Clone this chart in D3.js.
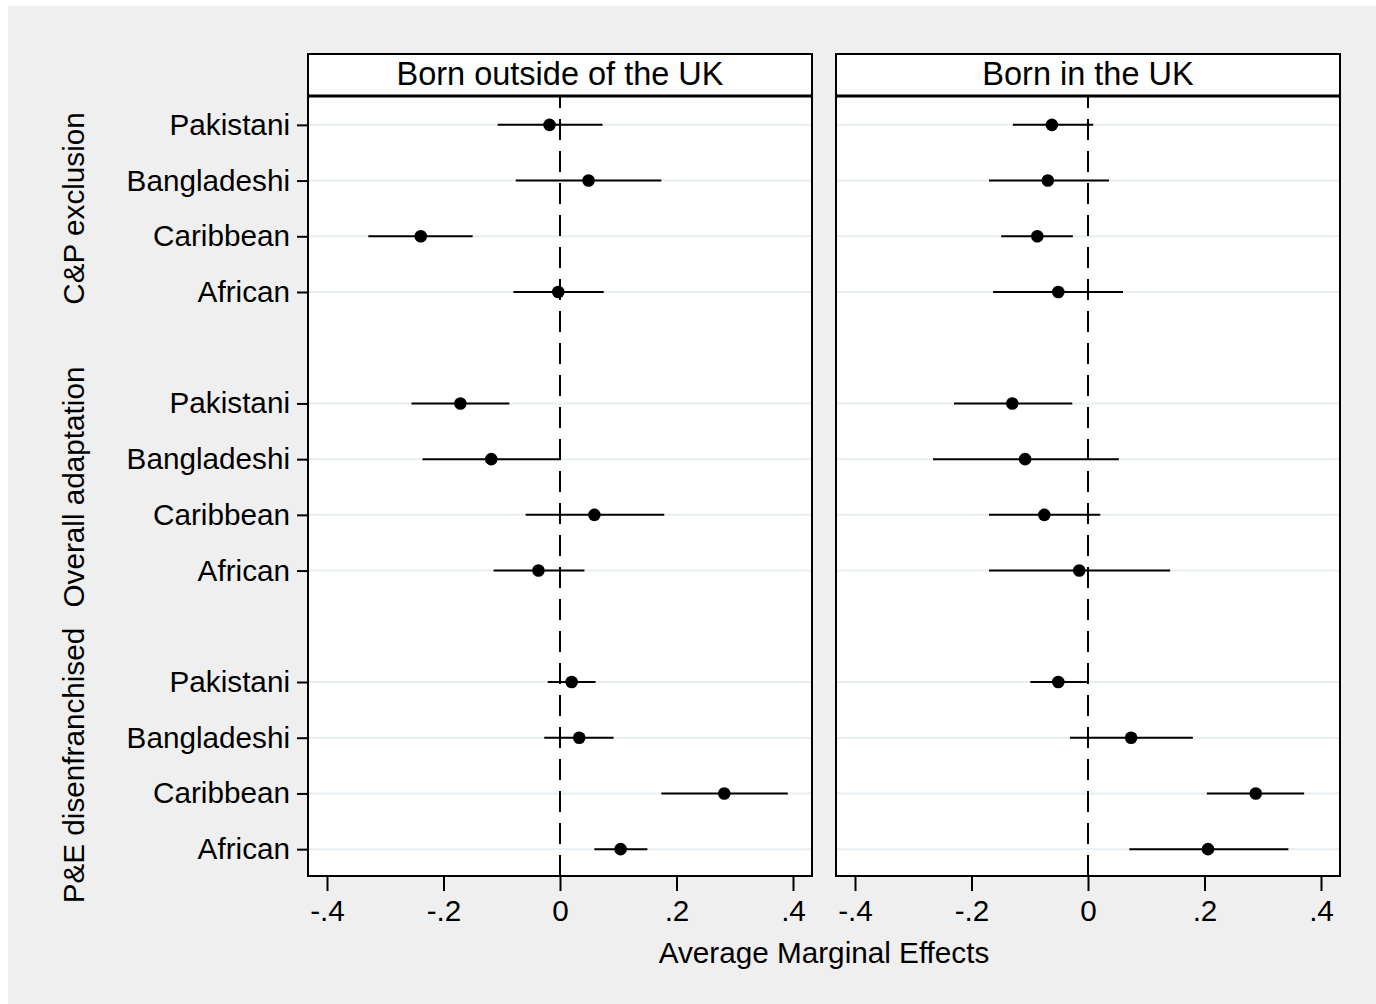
<!DOCTYPE html>
<html lang="en">
<head>
<meta charset="utf-8">
<title>Average Marginal Effects</title>
<script src="https://cdn.jsdelivr.net/npm/d3@7/dist/d3.min.js"></script>
<style>
  body { margin: 0; background: #fff; }
  text { font-family: "Liberation Sans", Arial, sans-serif; fill: #000; }
</style>
</head>
<body>
<script>
// categories and groups (rows top to bottom)
var categories = ["Pakistani", "Bangladeshi", "Caribbean", "African"];
var groups = ["C&P exclusion", "Overall adaptation", "P&E disenfranchised"];
var panels = ["Born outside of the UK", "Born in the UK"];
var xTicks = [-0.4, -0.2, 0, 0.2, 0.4];

// born outside of the UK: estimate, lower and upper CI (group by group)
var outsideEst = [-0.018, 0.049, -0.239, -0.003,  -0.171, -0.118, 0.059, -0.037,  0.020, 0.033, 0.282, 0.104];
var outsideLo  = [-0.107, -0.076, -0.329, -0.080,  -0.255, -0.236, -0.059, -0.114,  -0.021, -0.027, 0.174, 0.059];
var outsideHi  = [0.073, 0.174, -0.150, 0.075,  -0.087, 0.001, 0.179, 0.042,  0.061, 0.092, 0.391, 0.150];

// born in the UK
var ukEst = [-0.062, -0.069, -0.087, -0.051,  -0.130, -0.108, -0.075, -0.015,  -0.051, 0.074, 0.288, 0.206];
var ukLo  = [-0.129, -0.170, -0.149, -0.163,  -0.230, -0.266, -0.170, -0.170,  -0.099, -0.031, 0.204, 0.071];
var ukHi  = [0.009, 0.036, -0.026, 0.060,  -0.027, 0.053, 0.021, 0.141,  -0.002, 0.180, 0.371, 0.344];

var width = 1376, height = 1004;
var fontSize = "29.7px";

var svg = d3.select("body").append("svg")
  .attr("width", width)
  .attr("height", height);

// outer gray area
svg.append("rect")
  .attr("x", 8).attr("y", 6)
  .attr("width", width - 8).attr("height", height - 6)
  .attr("fill", "#efefef");

var plotTop = 54, headerBottom = 96, plotBottom = 876;

// rows: 4 per group, one empty row between groups
var rows = [];
groups.forEach(function(g, gi) {
  categories.forEach(function(c, ci) {
    rows.push({ group: g, cat: c, pos: gi * 5 + ci });
  });
});

var y = d3.scaleLinear().domain([-0.5, 13.5]).range([headerBottom + 1, plotBottom + 1]);

var panelDefs = [
  { title: panels[0], left: 308, right: 812, est: outsideEst, lo: outsideLo, hi: outsideHi },
  { title: panels[1], left: 836, right: 1340, est: ukEst, lo: ukLo, hi: ukHi }
];

function fmt(d) {
  if (d === 0) return "0";
  var s = Math.abs(d).toFixed(1).replace(/^0/, "");
  return (d < 0 ? "-" : "") + s;
}

panelDefs.forEach(function(p, pi) {
  var pad = 19;
  var x = d3.scaleLinear().domain([-0.4, 0.4]).range([p.left + pad, p.right - pad]);
  var g = svg.append("g");

  g.append("rect")
    .attr("x", p.left).attr("y", plotTop)
    .attr("width", p.right - p.left).attr("height", plotBottom - plotTop)
    .attr("fill", "#fff");

  // gridlines
  g.selectAll("line.grid")
    .data(rows)
    .enter().append("line")
    .attr("class", "grid")
    .attr("x1", p.left).attr("x2", p.right)
    .attr("y1", function(d) { return y(d.pos); })
    .attr("y2", function(d) { return y(d.pos); })
    .style("stroke", "#e6eef2")
    .style("stroke-width", "2px");

  // zero line
  g.append("line")
    .attr("x1", x(0)).attr("x2", x(0))
    .attr("y1", plotBottom).attr("y2", headerBottom)
    .style("stroke", "#000")
    .style("stroke-width", "2px")
    .style("stroke-dasharray", "21,11");

  // confidence intervals
  g.selectAll("line.ci")
    .data(rows)
    .enter().append("line")
    .attr("class", "ci")
    .attr("x1", function(d, i) { return x(p.lo[i]); })
    .attr("x2", function(d, i) { return x(p.hi[i]); })
    .attr("y1", function(d) { return y(d.pos); })
    .attr("y2", function(d) { return y(d.pos); })
    .style("stroke", "#000")
    .style("stroke-width", "2px");

  // point estimates
  g.selectAll("circle")
    .data(rows)
    .enter().append("circle")
    .attr("cx", function(d, i) { return x(p.est[i]); })
    .attr("cy", function(d) { return y(d.pos); })
    .attr("r", 6.3)
    .attr("fill", "#000");

  // frame and header
  g.append("rect")
    .attr("x", p.left).attr("y", plotTop)
    .attr("width", p.right - p.left).attr("height", plotBottom - plotTop)
    .attr("fill", "none")
    .style("stroke", "#000")
    .style("stroke-width", "2px");
  g.append("line")
    .attr("x1", p.left).attr("x2", p.right)
    .attr("y1", headerBottom).attr("y2", headerBottom)
    .style("stroke", "#000")
    .style("stroke-width", "3px");
  g.append("text")
    .attr("x", (p.left + p.right) / 2)
    .attr("y", 85)
    .attr("text-anchor", "middle")
    .style("font-size", "32.5px")
    .text(p.title);

  // x axis
  var xAxis = d3.axisBottom(x)
    .tickValues(xTicks)
    .tickFormat(fmt)
    .tickSize(14)
    .tickPadding(9);
  var ax = g.append("g")
    .attr("transform", "translate(0," + (plotBottom + 1) + ")")
    .call(xAxis);
  ax.select(".domain").remove();
  ax.selectAll(".tick line").style("stroke", "#000").style("stroke-width", "2px");
  ax.selectAll(".tick text")
    .style("font-size", fontSize)
    .style("font-family", "'Liberation Sans', Arial, sans-serif")
    .attr("fill", "#000");

  // y axis on the first panel only
  if (pi === 0) {
    var yAxis = d3.axisLeft(y)
      .tickValues(rows.map(function(d) { return d.pos; }))
      .tickFormat(function(v) { return rows.filter(function(r) { return r.pos === v; })[0].cat; })
      .tickSize(11)
      .tickPadding(7);
    var ay = g.append("g")
      .attr("transform", "translate(" + p.left + ",0)")
      .call(yAxis);
    ay.select(".domain").remove();
    ay.selectAll(".tick line").style("stroke", "#000").style("stroke-width", "2px");
    ay.selectAll(".tick text")
      .style("font-size", fontSize)
      .style("font-family", "'Liberation Sans', Arial, sans-serif")
      .attr("fill", "#000");
  }
});

// group labels (rotated)
groups.forEach(function(gname, gi) {
  var cy = (y(gi * 5) + y(gi * 5 + 3)) / 2;
  svg.append("text")
    .attr("transform", "translate(84," + cy + ") rotate(-90)")
    .attr("text-anchor", "middle")
    .style("font-size", fontSize)
    .text(gname);
});

// x axis title
svg.append("text")
  .attr("x", (308 + 1340) / 2)
  .attr("y", 963)
  .attr("text-anchor", "middle")
  .style("font-size", fontSize)
  .text("Average Marginal Effects");
</script>
</body>
</html>
